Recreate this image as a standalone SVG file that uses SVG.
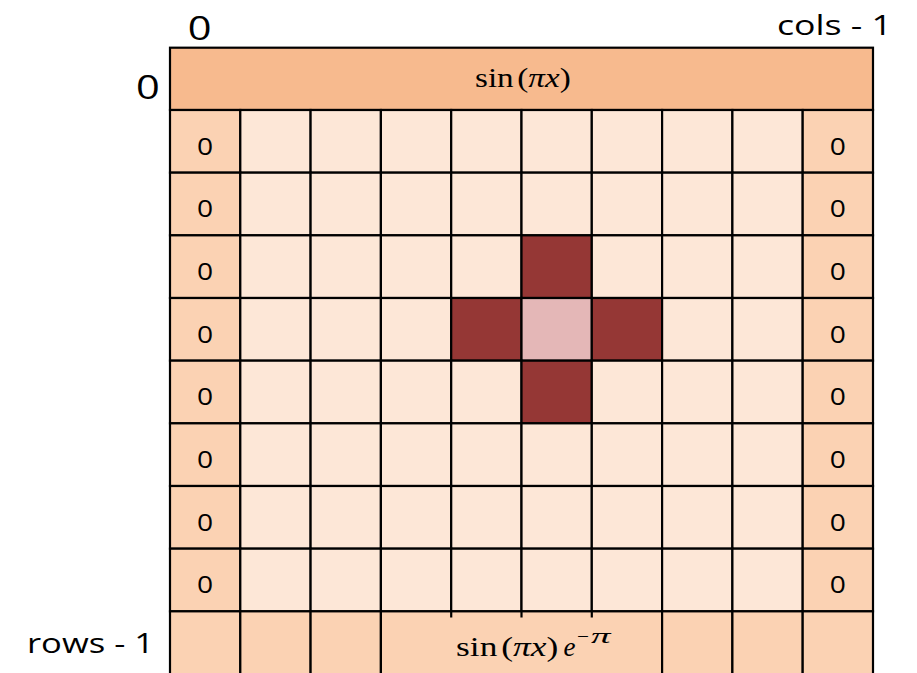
<svg xmlns="http://www.w3.org/2000/svg" xmlns:xlink="http://www.w3.org/1999/xlink" width="917" height="673" viewBox="0 0 917 673">
<style>
g rect{stroke:#000;stroke-width:2.2}
.h{fill:#F7BA8E}
.b{fill:#FBD2B3}
.i{fill:#FDE7D7}
.d{fill:#953735}
.c{fill:#E4B7B7}
.lbl{font-family:"Open Sans","Noto Sans",sans-serif;fill:#000}
.m{font-family:"Liberation Serif","DejaVu Serif",serif;fill:#000}
.it{font-style:italic}
.tick{stroke:#000;stroke-width:2.2}
</style>
<defs>
<text id="zero" class="lbl" font-size="24.5" text-anchor="middle" transform="scale(1.15,1)">0</text>
</defs>
<rect width="917" height="673" style="fill:#fff;stroke:none"/>

<g id="header">
<rect class="h" x="170" y="47.7" width="703" height="62.3"/>
<text class="m" x="475" y="87" font-size="27.5" textLength="95.7" lengthAdjust="spacingAndGlyphs">sin<tspan dx="3">(</tspan><tspan class="it">πx</tspan>)</text>
</g>

<g id="row1">
<g id="r1c0"><rect class="b" x="170" y="110" width="70.3" height="62.67"/><use xlink:href="#zero" x="205.15" y="154.7"/></g>
<g id="r1c1"><rect class="i" x="240.3" y="110" width="70.3" height="62.67"/></g>
<g id="r1c2"><rect class="i" x="310.6" y="110" width="70.3" height="62.67"/></g>
<g id="r1c3"><rect class="i" x="380.9" y="110" width="70.3" height="62.67"/></g>
<g id="r1c4"><rect class="i" x="451.2" y="110" width="70.3" height="62.67"/></g>
<g id="r1c5"><rect class="i" x="521.5" y="110" width="70.3" height="62.67"/></g>
<g id="r1c6"><rect class="i" x="591.8" y="110" width="70.3" height="62.67"/></g>
<g id="r1c7"><rect class="i" x="662.1" y="110" width="70.3" height="62.67"/></g>
<g id="r1c8"><rect class="i" x="732.4" y="110" width="70.3" height="62.67"/></g>
<g id="r1c9"><rect class="b" x="802.7" y="110" width="70.3" height="62.67"/><use xlink:href="#zero" x="837.85" y="154.7"/></g>
</g>

<g id="row2">
<g id="r2c0"><rect class="b" x="170" y="172.67" width="70.3" height="62.67"/><use xlink:href="#zero" x="205.15" y="217.4"/></g>
<g id="r2c1"><rect class="i" x="240.3" y="172.67" width="70.3" height="62.67"/></g>
<g id="r2c2"><rect class="i" x="310.6" y="172.67" width="70.3" height="62.67"/></g>
<g id="r2c3"><rect class="i" x="380.9" y="172.67" width="70.3" height="62.67"/></g>
<g id="r2c4"><rect class="i" x="451.2" y="172.67" width="70.3" height="62.67"/></g>
<g id="r2c5"><rect class="i" x="521.5" y="172.67" width="70.3" height="62.67"/></g>
<g id="r2c6"><rect class="i" x="591.8" y="172.67" width="70.3" height="62.67"/></g>
<g id="r2c7"><rect class="i" x="662.1" y="172.67" width="70.3" height="62.67"/></g>
<g id="r2c8"><rect class="i" x="732.4" y="172.67" width="70.3" height="62.67"/></g>
<g id="r2c9"><rect class="b" x="802.7" y="172.67" width="70.3" height="62.67"/><use xlink:href="#zero" x="837.85" y="217.4"/></g>
</g>

<g id="row3">
<g id="r3c0"><rect class="b" x="170" y="235.33" width="70.3" height="62.67"/><use xlink:href="#zero" x="205.15" y="280"/></g>
<g id="r3c1"><rect class="i" x="240.3" y="235.33" width="70.3" height="62.67"/></g>
<g id="r3c2"><rect class="i" x="310.6" y="235.33" width="70.3" height="62.67"/></g>
<g id="r3c3"><rect class="i" x="380.9" y="235.33" width="70.3" height="62.67"/></g>
<g id="r3c4"><rect class="i" x="451.2" y="235.33" width="70.3" height="62.67"/></g>
<g id="r3c5"><rect class="d" x="521.5" y="235.33" width="70.3" height="62.67"/></g>
<g id="r3c6"><rect class="i" x="591.8" y="235.33" width="70.3" height="62.67"/></g>
<g id="r3c7"><rect class="i" x="662.1" y="235.33" width="70.3" height="62.67"/></g>
<g id="r3c8"><rect class="i" x="732.4" y="235.33" width="70.3" height="62.67"/></g>
<g id="r3c9"><rect class="b" x="802.7" y="235.33" width="70.3" height="62.67"/><use xlink:href="#zero" x="837.85" y="280"/></g>
</g>

<g id="row4">
<g id="r4c0"><rect class="b" x="170" y="298" width="70.3" height="62.67"/><use xlink:href="#zero" x="205.15" y="342.7"/></g>
<g id="r4c1"><rect class="i" x="240.3" y="298" width="70.3" height="62.67"/></g>
<g id="r4c2"><rect class="i" x="310.6" y="298" width="70.3" height="62.67"/></g>
<g id="r4c3"><rect class="i" x="380.9" y="298" width="70.3" height="62.67"/></g>
<g id="r4c4"><rect class="d" x="451.2" y="298" width="70.3" height="62.67"/></g>
<g id="r4c5"><rect class="c" x="521.5" y="298" width="70.3" height="62.67"/></g>
<g id="r4c6"><rect class="d" x="591.8" y="298" width="70.3" height="62.67"/></g>
<g id="r4c7"><rect class="i" x="662.1" y="298" width="70.3" height="62.67"/></g>
<g id="r4c8"><rect class="i" x="732.4" y="298" width="70.3" height="62.67"/></g>
<g id="r4c9"><rect class="b" x="802.7" y="298" width="70.3" height="62.67"/><use xlink:href="#zero" x="837.85" y="342.7"/></g>
</g>

<g id="row5">
<g id="r5c0"><rect class="b" x="170" y="360.67" width="70.3" height="62.67"/><use xlink:href="#zero" x="205.15" y="405.4"/></g>
<g id="r5c1"><rect class="i" x="240.3" y="360.67" width="70.3" height="62.67"/></g>
<g id="r5c2"><rect class="i" x="310.6" y="360.67" width="70.3" height="62.67"/></g>
<g id="r5c3"><rect class="i" x="380.9" y="360.67" width="70.3" height="62.67"/></g>
<g id="r5c4"><rect class="i" x="451.2" y="360.67" width="70.3" height="62.67"/></g>
<g id="r5c5"><rect class="d" x="521.5" y="360.67" width="70.3" height="62.67"/></g>
<g id="r5c6"><rect class="i" x="591.8" y="360.67" width="70.3" height="62.67"/></g>
<g id="r5c7"><rect class="i" x="662.1" y="360.67" width="70.3" height="62.67"/></g>
<g id="r5c8"><rect class="i" x="732.4" y="360.67" width="70.3" height="62.67"/></g>
<g id="r5c9"><rect class="b" x="802.7" y="360.67" width="70.3" height="62.67"/><use xlink:href="#zero" x="837.85" y="405.4"/></g>
</g>

<g id="row6">
<g id="r6c0"><rect class="b" x="170" y="423.33" width="70.3" height="62.67"/><use xlink:href="#zero" x="205.15" y="468"/></g>
<g id="r6c1"><rect class="i" x="240.3" y="423.33" width="70.3" height="62.67"/></g>
<g id="r6c2"><rect class="i" x="310.6" y="423.33" width="70.3" height="62.67"/></g>
<g id="r6c3"><rect class="i" x="380.9" y="423.33" width="70.3" height="62.67"/></g>
<g id="r6c4"><rect class="i" x="451.2" y="423.33" width="70.3" height="62.67"/></g>
<g id="r6c5"><rect class="i" x="521.5" y="423.33" width="70.3" height="62.67"/></g>
<g id="r6c6"><rect class="i" x="591.8" y="423.33" width="70.3" height="62.67"/></g>
<g id="r6c7"><rect class="i" x="662.1" y="423.33" width="70.3" height="62.67"/></g>
<g id="r6c8"><rect class="i" x="732.4" y="423.33" width="70.3" height="62.67"/></g>
<g id="r6c9"><rect class="b" x="802.7" y="423.33" width="70.3" height="62.67"/><use xlink:href="#zero" x="837.85" y="468"/></g>
</g>

<g id="row7">
<g id="r7c0"><rect class="b" x="170" y="486" width="70.3" height="62.67"/><use xlink:href="#zero" x="205.15" y="530.7"/></g>
<g id="r7c1"><rect class="i" x="240.3" y="486" width="70.3" height="62.67"/></g>
<g id="r7c2"><rect class="i" x="310.6" y="486" width="70.3" height="62.67"/></g>
<g id="r7c3"><rect class="i" x="380.9" y="486" width="70.3" height="62.67"/></g>
<g id="r7c4"><rect class="i" x="451.2" y="486" width="70.3" height="62.67"/></g>
<g id="r7c5"><rect class="i" x="521.5" y="486" width="70.3" height="62.67"/></g>
<g id="r7c6"><rect class="i" x="591.8" y="486" width="70.3" height="62.67"/></g>
<g id="r7c7"><rect class="i" x="662.1" y="486" width="70.3" height="62.67"/></g>
<g id="r7c8"><rect class="i" x="732.4" y="486" width="70.3" height="62.67"/></g>
<g id="r7c9"><rect class="b" x="802.7" y="486" width="70.3" height="62.67"/><use xlink:href="#zero" x="837.85" y="530.7"/></g>
</g>

<g id="row8">
<g id="r8c0"><rect class="b" x="170" y="548.67" width="70.3" height="62.67"/><use xlink:href="#zero" x="205.15" y="593.4"/></g>
<g id="r8c1"><rect class="i" x="240.3" y="548.67" width="70.3" height="62.67"/></g>
<g id="r8c2"><rect class="i" x="310.6" y="548.67" width="70.3" height="62.67"/></g>
<g id="r8c3"><rect class="i" x="380.9" y="548.67" width="70.3" height="62.67"/></g>
<g id="r8c4"><rect class="i" x="451.2" y="548.67" width="70.3" height="62.67"/></g>
<g id="r8c5"><rect class="i" x="521.5" y="548.67" width="70.3" height="62.67"/></g>
<g id="r8c6"><rect class="i" x="591.8" y="548.67" width="70.3" height="62.67"/></g>
<g id="r8c7"><rect class="i" x="662.1" y="548.67" width="70.3" height="62.67"/></g>
<g id="r8c8"><rect class="i" x="732.4" y="548.67" width="70.3" height="62.67"/></g>
<g id="r8c9"><rect class="b" x="802.7" y="548.67" width="70.3" height="62.67"/><use xlink:href="#zero" x="837.85" y="593.4"/></g>
</g>

<g id="bottom">
<g id="b0"><rect class="b" x="170" y="611.33" width="70.3" height="70"/></g>
<g id="b1"><rect class="b" x="240.3" y="611.33" width="70.3" height="70"/></g>
<g id="b2"><rect class="b" x="310.6" y="611.33" width="70.3" height="70"/></g>
<g id="b3">
<rect class="b" x="380.9" y="611.33" width="281.2" height="70"/>
<line class="tick" x1="451.2" y1="611.33" x2="451.2" y2="617.5"/>
<line class="tick" x1="521.5" y1="611.33" x2="521.5" y2="617.5"/>
<line class="tick" x1="591.8" y1="611.33" x2="591.8" y2="617.5"/>
<text class="m" x="456" y="656" font-size="27.5" textLength="102.3" lengthAdjust="spacingAndGlyphs">sin<tspan dx="3">(</tspan><tspan class="it">πx</tspan>)</text>
<text class="m it" x="563.5" y="656" font-size="27">e</text>
<text class="m" x="577" y="643.3" font-size="19" textLength="12" lengthAdjust="spacingAndGlyphs">−</text>
<text class="m it" x="591" y="643.3" font-size="21" textLength="19.5" lengthAdjust="spacingAndGlyphs">π</text>
</g>
<g id="b7"><rect class="b" x="662.1" y="611.33" width="70.3" height="70"/></g>
<g id="b8"><rect class="b" x="732.4" y="611.33" width="70.3" height="70"/></g>
<g id="b9"><rect class="b" x="802.7" y="611.33" width="70.3" height="70"/></g>
</g>

<g id="labels">
<text class="lbl" font-size="32" text-anchor="middle" transform="translate(199.7,39.6) scale(1.3,1)">0</text>
<text class="lbl" font-size="32" text-anchor="middle" transform="translate(147.8,98.7) scale(1.3,1)">0</text>
<text class="lbl" x="777" y="35" font-size="28" textLength="115" lengthAdjust="spacingAndGlyphs">cols - 1</text>
<text class="lbl" x="27" y="652.7" font-size="28" textLength="127" lengthAdjust="spacingAndGlyphs">rows - 1</text>
</g>
</svg>
